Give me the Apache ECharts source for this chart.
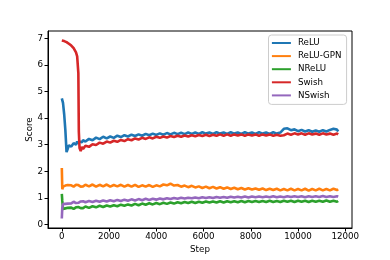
<!DOCTYPE html>
<html><head><meta charset="utf-8">
<script src="https://cdn.jsdelivr.net/npm/echarts@6/dist/echarts.min.js"></script>
<style>html,body{margin:0;padding:0;background:#fff}#c{width:390px;height:260px}</style>
</head><body><div id="c"></div>
<script>
const seriesNames = ["ReLU", "ReLU-GPN", "NReLU", "Swish", "NSwish"];
const xTicks = [0, 2000, 4000, 6000, 8000, 10000, 12000];
const yTicks = [0, 1, 2, 3, 4, 5, 6, 7];
const steps = [0,20,50,100,150,200,250,300,400,500,600,650,700,720,750,800,850,900,
1000,1150,1300,1450,1600,1750,1900,2050,2200,2350,
2500,2650,2800,2950,3100,3250,3400,3550,3700,3850,
4000,4150,4300,4450,4600,4750,4900,5050,5200,5350,
5500,5650,5800,5950,6100,6250,6400,6550,6700,6850,
7000,7150,7300,7450,7600,7750,7900,8050,8200,8350,
8500,8650,8800,8950,9100,9250,9400,9550,9700,9850,
10000,10150,10300,10450,10600,10750,10900,11050,11200,11350,
11500,11650,11700];
const relu = [4.75,4.70,4.58,4.15,3.55,2.72,2.85,2.98,2.93,3.06,3.00,3.12,3.04,3.13,3.07,3.15,3.09,3.17,
3.12,3.22,3.17,3.27,3.21,3.30,3.24,3.31,3.26,3.34,
3.29,3.36,3.31,3.38,3.33,3.39,3.34,3.41,3.36,3.42,
3.37,3.43,3.38,3.44,3.39,3.45,3.40,3.45,3.40,3.46,
3.41,3.46,3.41,3.47,3.42,3.46,3.41,3.47,3.42,3.46,
3.41,3.47,3.42,3.46,3.41,3.47,3.42,3.46,3.41,3.47,
3.42,3.46,3.41,3.47,3.42,3.46,3.60,3.62,3.55,3.58,
3.51,3.56,3.50,3.55,3.49,3.54,3.49,3.55,3.50,3.56,
3.60,3.57,3.50];
const reluGpn = [2.12,1.32,1.42,1.36,1.46,1.40,1.48,1.41,1.47,1.42,1.49,1.42,1.48,1.43,1.49,1.42,1.48,1.43,
1.49,1.43,1.50,1.42,1.49,1.43,1.50,1.42,1.48,1.43,
1.49,1.42,1.48,1.42,1.49,1.41,1.47,1.42,1.48,1.41,
1.47,1.43,1.50,1.47,1.53,1.46,1.48,1.42,1.46,1.40,
1.45,1.39,1.43,1.37,1.42,1.36,1.41,1.35,1.40,1.34,
1.39,1.33,1.38,1.32,1.37,1.31,1.36,1.31,1.35,1.30,
1.35,1.29,1.34,1.29,1.34,1.28,1.33,1.28,1.34,1.28,
1.33,1.28,1.34,1.27,1.33,1.28,1.34,1.28,1.33,1.28,
1.34,1.29,1.32];
const nrelu = [1.15,0.88,0.58,0.52,0.60,0.55,0.62,0.56,0.63,0.58,0.64,0.59,0.65,0.60,0.65,0.61,0.66,0.61,
0.67,0.62,0.68,0.64,0.70,0.65,0.71,0.67,0.72,0.68,
0.74,0.70,0.75,0.71,0.77,0.72,0.78,0.74,0.79,0.75,
0.80,0.76,0.81,0.77,0.82,0.78,0.83,0.79,0.84,0.80,
0.85,0.80,0.85,0.81,0.86,0.82,0.86,0.82,0.87,0.82,
0.87,0.83,0.87,0.83,0.88,0.83,0.88,0.84,0.88,0.84,
0.88,0.84,0.89,0.84,0.88,0.84,0.89,0.85,0.89,0.84,
0.89,0.85,0.89,0.84,0.89,0.85,0.89,0.85,0.90,0.85,
0.89,0.85,0.88];
const swish = [6.93,6.93,6.92,6.91,6.89,6.87,6.85,6.81,6.74,6.64,6.48,6.33,5.70,3.50,2.88,2.76,2.92,2.84,
2.96,2.92,3.02,2.99,3.08,3.04,3.12,3.08,3.15,3.11,
3.18,3.14,3.21,3.17,3.24,3.20,3.26,3.22,3.28,3.24,
3.30,3.26,3.31,3.27,3.33,3.29,3.34,3.30,3.35,3.31,
3.36,3.32,3.37,3.33,3.38,3.33,3.38,3.34,3.39,3.34,
3.39,3.34,3.39,3.35,3.39,3.34,3.39,3.35,3.39,3.34,
3.39,3.35,3.39,3.34,3.38,3.34,3.36,3.42,3.38,3.43,
3.39,3.43,3.38,3.43,3.39,3.42,3.38,3.43,3.39,3.42,
3.38,3.42,3.39];
const nswish = [0.22,0.62,0.76,0.82,0.77,0.83,0.78,0.84,0.79,0.85,0.80,0.85,0.81,0.86,0.81,0.86,0.82,0.87,
0.83,0.88,0.84,0.89,0.85,0.90,0.86,0.91,0.87,0.92,
0.88,0.93,0.89,0.94,0.90,0.95,0.91,0.96,0.92,0.96,
0.93,0.97,0.94,0.98,0.95,0.99,0.96,1.00,0.97,1.00,
0.98,1.01,0.98,1.02,0.99,1.02,0.99,1.03,1.00,1.03,
1.00,1.04,1.01,1.04,1.01,1.05,1.01,1.05,1.02,1.05,
1.02,1.05,1.02,1.06,1.02,1.05,1.02,1.06,1.03,1.06,
1.03,1.06,1.02,1.06,1.03,1.06,1.03,1.07,1.03,1.06,
1.03,1.06,1.04];
const values = [relu, reluGpn, nrelu, swish, nswish];
const colors = ["#1f77b4", "#ff7f0e", "#2ca02c", "#d62728", "#9467bd"];

const font = "DejaVu Sans";
const chart = echarts.init(document.getElementById('c'), null, {renderer: 'canvas'});
chart.setOption({
  animation: false,
  backgroundColor: '#fff',
  grid: {left: 48, right: 38, top: 31, bottom: 32, show: true, borderColor: '#000', borderWidth: 1, backgroundColor: 'transparent'},
  legend: {
    orient: 'vertical', left: 268.5, top: 35,
    data: seriesNames.map((n, i) => ({name: n, icon: 'rect', itemStyle: {color: colors[i]}})),
    itemWidth: 19, itemHeight: 2, itemGap: 2.1,
    padding: [2.5, 5, 3.5, 3.4],
    borderColor: '#cccccc', borderWidth: 1, borderRadius: 3,
    backgroundColor: 'rgba(255,255,255,0.8)',
    textStyle: {fontFamily: font, fontSize: 8.7, color: '#000', lineHeight: 11, padding: [0, 0, 0, 2]}
  },
  xAxis: {
    type: 'value', min: -585, max: 12285,
    name: 'Step', nameLocation: 'middle', nameGap: 17, nameMoveOverlap: false,
    nameTextStyle: {fontFamily: font, fontSize: 8.7, color: '#000'},
    splitLine: {show: false},
    axisLine: {show: true, onZero: false, lineStyle: {color: '#000', width: 1}},
    axisTick: {show: true, length: 3.5, customValues: xTicks, lineStyle: {color: '#000', width: 1}},
    axisLabel: {customValues: xTicks, formatter: v => String(v), fontFamily: font, fontSize: 8.7, color: '#000', margin: 4.5}
  },
  yAxis: {
    type: 'value', min: -0.14, max: 7.29,
    name: 'Score', nameLocation: 'middle', nameGap: 14, nameMoveOverlap: false,
    nameTextStyle: {fontFamily: font, fontSize: 8.7, color: '#000'},
    splitLine: {show: false},
    axisLine: {show: true, onZero: false, lineStyle: {color: '#000', width: 1}},
    axisTick: {show: true, length: 3.5, customValues: yTicks, lineStyle: {color: '#000', width: 1}},
    axisLabel: {customValues: yTicks, formatter: v => String(v), fontFamily: font, fontSize: 8.7, color: '#000', margin: 5}
  },
  series: seriesNames.map((n, i) => ({
    name: n, type: 'line', showSymbol: false, symbol: 'none',
    data: steps.map((s, k) => [s, values[i][k]]),
    lineStyle: {color: colors[i], width: 2.6},
    itemStyle: {color: colors[i]},
    z: 2 + i
  }))
});
</script></body></html>
